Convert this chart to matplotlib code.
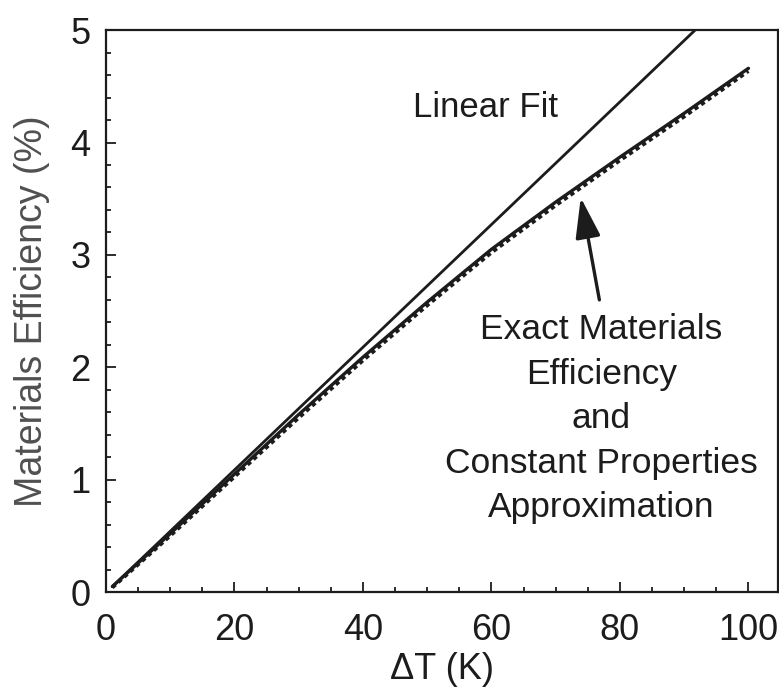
import matplotlib
matplotlib.use("Agg")
import matplotlib.pyplot as plt
from matplotlib.ticker import MultipleLocator

plt.rcParams['font.family'] = ['Liberation Sans', 'DejaVu Sans']

# Data
dT = [1, 10, 20, 30, 40, 50, 60, 70, 80, 90, 100]
exact_eff = [0.05, 0.52, 1.05, 1.58, 2.09, 2.58, 3.05, 3.47, 3.87, 4.26, 4.66]
const_prop_eff = [0.04, 0.50, 1.025, 1.55, 2.06, 2.55, 3.02, 3.44, 3.84, 4.23, 4.635]
linear_x = [1, 91.7]
linear_y = [0.05, 5.0]

x_ticks = [0, 20, 40, 60, 80, 100]
y_ticks = [0, 1, 2, 3, 4, 5]

ink = '#1c1c1c'

fig = plt.figure(figsize=(7.79, 6.95), dpi=100)
ax = fig.add_axes([0.136, 0.148, 0.8627, 0.8087])

ax.plot(linear_x, linear_y, color=ink, lw=2.0, solid_capstyle='round')
ax.plot(dT, exact_eff, color=ink, lw=2.4, solid_capstyle='round')
ax.plot(dT, const_prop_eff, color=ink, lw=2.6, ls=(0, (1.2, 1.0)))

ax.set_xlim(0, 104.6)
ax.set_ylim(0, 5)
ax.set_xticks(x_ticks)
ax.set_yticks(y_ticks)
ax.xaxis.set_minor_locator(MultipleLocator(5))
ax.yaxis.set_minor_locator(MultipleLocator(0.2))

ax.tick_params(which='both', direction='in', top=False, right=False,
               colors=ink, width=1.3)
ax.tick_params(which='major', length=7.5, labelsize=26)
ax.tick_params(which='minor', length=3.8)
ax.tick_params(axis='x', which='major', pad=15)
ax.tick_params(axis='y', which='major', pad=11)

for s in ax.spines.values():
    s.set_linewidth(1.6)
    s.set_color(ink)

ax.set_xlabel('ΔT (K)', fontsize=26, color=ink, labelpad=3)
ax.set_ylabel('Materials Efficiency (%)', fontsize=27, color='#505050')
ax.yaxis.set_label_coords(-0.083, 0.5)

ax.text(59.1, 4.226, 'Linear Fit', fontsize=25, color=ink, ha='center', va='baseline')
ax.text(77.1, 0.667, 'Exact Materials\nEfficiency\nand\nConstant Properties\nApproximation',
        fontsize=25.5, color=ink, ha='center', va='baseline', linespacing=1.44)

ax.annotate('', xy=(73.9, 3.51), xytext=(76.8, 2.60),
            arrowprops=dict(arrowstyle='-|>,head_length=0.45,head_width=0.14',
                            mutation_scale=55, lw=2.4, color=ink,
                            shrinkA=0, shrinkB=0))

fig.savefig('out.png', dpi=100)
